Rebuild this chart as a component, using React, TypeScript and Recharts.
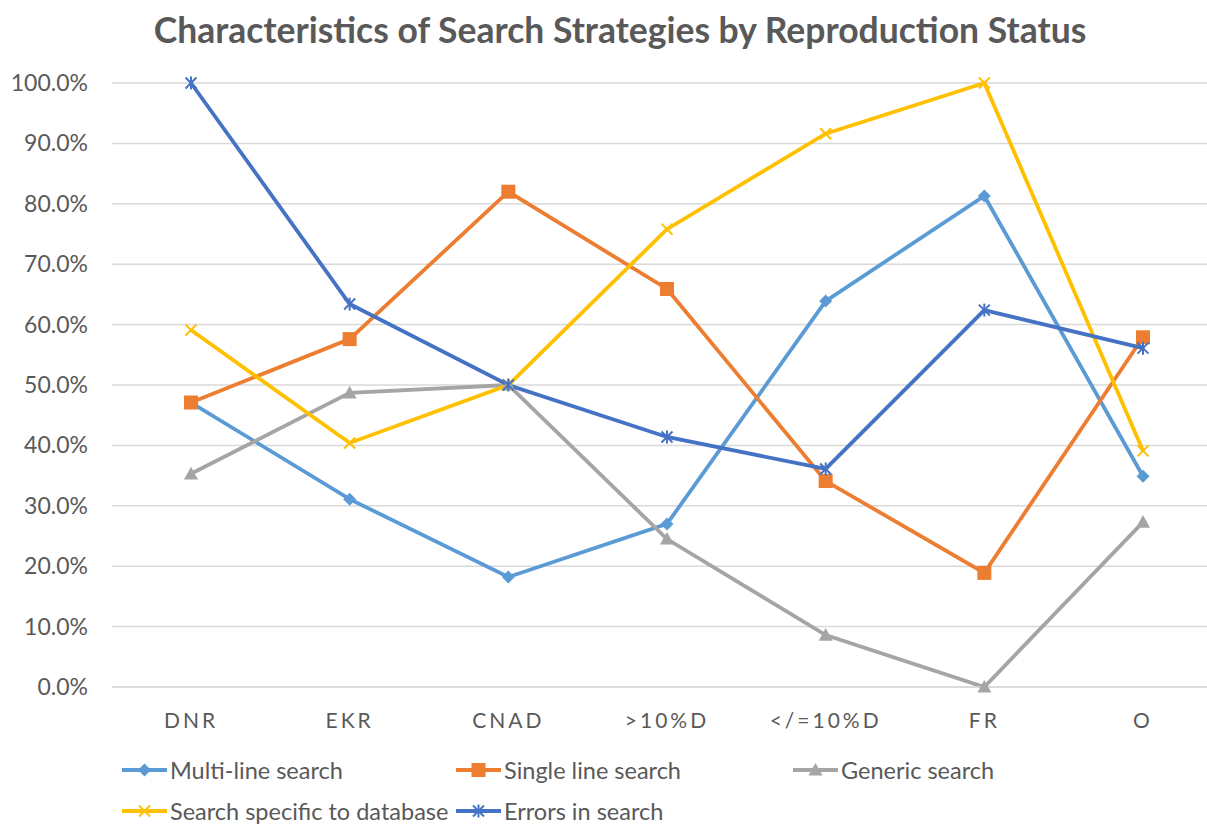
import { LineChart, Line, XAxis, YAxis, CartesianGrid } from 'recharts';

const categories = ['DNR', 'EKR', 'CNAD', '>10%D', '</=10%D', 'FR', 'O'];
const multiLine = [47.1, 31.1, 18.2, 27.0, 63.9, 81.3, 34.9];
const singleLine = [47.1, 57.6, 82.0, 65.9, 34.1, 18.9, 57.9];
const generic = [35.3, 48.7, 50.0, 24.5, 8.6, 0.0, 27.3];
const dbSpecific = [59.1, 40.4, 50.0, 75.8, 91.6, 100.0, 39.1];
const errors = [100.0, 63.4, 50.0, 41.4, 36.1, 62.4, 56.1];
const yTicks = [0, 10, 20, 30, 40, 50, 60, 70, 80, 90, 100];

type Shape = 'diamond' | 'square' | 'triangle' | 'x' | 'star';

const series: { key: string; name: string; color: string; shape: Shape; values: number[] }[] = [
  { key: 'multi', name: 'Multi-line search', color: '#5b9bd5', shape: 'diamond', values: multiLine },
  { key: 'single', name: 'Single line search', color: '#ed7d31', shape: 'square', values: singleLine },
  { key: 'generic', name: 'Generic search', color: '#a5a5a5', shape: 'triangle', values: generic },
  { key: 'db', name: 'Search specific to database', color: '#ffc000', shape: 'x', values: dbSpecific },
  { key: 'errors', name: 'Errors in search', color: '#4472c4', shape: 'star', values: errors },
];

const data = categories.map((c, i) => {
  const row: Record<string, string | number> = { cat: c };
  series.forEach((s) => { row[s.key] = s.values[i]; });
  return row;
});

const FONT = 'Lato, "Open Sans", sans-serif';
const TEXT = '#595959';

function Marker({ shape, color, cx, cy }: { shape: Shape; color: string; cx: number; cy: number }) {
  if (shape === 'diamond') {
    const r = 6.5;
    return <polygon points={`${cx},${cy - r} ${cx + r},${cy} ${cx},${cy + r} ${cx - r},${cy}`} fill={color} />;
  }
  if (shape === 'square') {
    const r = 7;
    return <rect x={cx - r} y={cy - r} width={r * 2} height={r * 2} fill={color} />;
  }
  if (shape === 'triangle') {
    const r = 7;
    return <polygon points={`${cx},${cy - r} ${cx + r},${cy + r * 0.8} ${cx - r},${cy + r * 0.8}`} fill={color} />;
  }
  const r = 5.5;
  return (
    <g stroke={color} strokeWidth={2}>
      <line x1={cx - r} y1={cy - r} x2={cx + r} y2={cy + r} />
      <line x1={cx - r} y1={cy + r} x2={cx + r} y2={cy - r} />
      {shape === 'star' && <line x1={cx} y1={cy - r - 1} x2={cx} y2={cy + r + 1} />}
    </g>
  );
}

// legend placement, two rows like the original Excel legend
const legendRows = [
  [{ s: 0, x: 122 }, { s: 1, x: 456 }, { s: 2, x: 793 }],
  [{ s: 3, x: 122 }, { s: 4, x: 456 }],
];

export default function App() {
  return (
    <div style={{ position: 'absolute', left: 0, top: 0, width: 1207, height: 825, overflow: 'hidden', background: '#fff', fontFamily: FONT }}>
      <div style={{ position: 'absolute', left: 0, width: 1240, top: 8, textAlign: 'center', fontSize: 35.5, fontWeight: 700, color: TEXT }}>
        Characteristics of Search Strategies by Reproduction Status
      </div>
      <LineChart width={1222} height={825} data={data} margin={{ top: 83, right: 0, left: 0, bottom: 108 }}>
        <CartesianGrid vertical={false} stroke="#d9d9d9" strokeWidth={1.5} />
        <YAxis
          type="number"
          domain={[0, 100]}
          ticks={yTicks}
          width={112}
          axisLine={false}
          tickLine={false}
          tick={({ y, payload }: any) => (
            <text x={88} y={y} dy={8} textAnchor="end" fontSize={23} fill={TEXT} fontFamily={FONT}>
              {`${Number(payload.value).toFixed(1)}%`}
            </text>
          )}
        />
        <XAxis
          dataKey="cat"
          axisLine={{ stroke: '#d9d9d9', strokeWidth: 1.5 }}
          tickLine={false}
          interval={0}
          padding={{ left: 79, right: 79 }}
          tick={({ x, payload }: any) => (
            <text x={x} y={728} textAnchor="middle" fontSize={21} fill={TEXT} fontFamily={FONT} letterSpacing={3}>
              {payload.value}
            </text>
          )}
        />
        {series.map((s) => (
          <Line
            key={s.key}
            dataKey={s.key}
            name={s.name}
            stroke={s.color}
            strokeWidth={3.8}
            isAnimationActive={false}
            dot={({ cx, cy, index }: any) => <Marker key={index} shape={s.shape} color={s.color} cx={cx} cy={cy} />}
            activeDot={false}
          />
        ))}
      </LineChart>
      {legendRows.map((row, ri) =>
        row.map(({ s, x }) => {
          const ser = series[s];
          const y = ri === 0 ? 770 : 811;
          return (
            <div key={ser.key} style={{ position: 'absolute', left: x, top: y - 13, height: 26, display: 'flex', alignItems: 'center', fontSize: 23.5, lineHeight: '26px', color: TEXT }}>
              <svg width={45} height={26}>
                <line x1={0} y1={13} x2={45} y2={13} stroke={ser.color} strokeWidth={3.8} />
                <Marker shape={ser.shape} color={ser.color} cx={22.5} cy={13} />
              </svg>
              <span style={{ marginLeft: 3 }}>{ser.name}</span>
            </div>
          );
        })
      )}
    </div>
  );
}
